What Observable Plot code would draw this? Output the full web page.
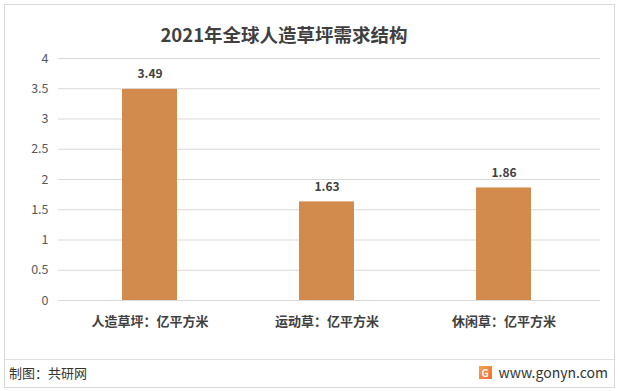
<!DOCTYPE html>
<html><head><meta charset="utf-8">
<script src="https://cdn.jsdelivr.net/npm/d3@7"></script>
<script src="https://cdn.jsdelivr.net/npm/@observablehq/plot@0.6"></script>
<style>
html,body{margin:0;padding:0;background:#fff;}
#wrap{position:relative;width:618px;height:391px;overflow:hidden;font-family:"Noto Sans CJK SC","Noto Sans",sans-serif;}
#border{position:absolute;left:4px;top:4px;width:611px;height:384px;border:1px solid #d9d9d9;box-sizing:border-box;}
#title{position:absolute;left:0;width:568px;top:21px;text-align:center;font-size:18.5px;font-weight:bold;color:#404040;}
#chart{position:absolute;left:0;top:40px;}
#sep{position:absolute;left:5px;top:359px;width:609px;height:1px;background:#e0e0e0;}
#src{position:absolute;left:9px;top:363px;font-size:13px;color:#333;}
#site{position:absolute;right:10px;top:362px;font-size:14px;color:#333;display:flex;align-items:center;}
#logo{display:inline-block;width:13px;height:13px;margin-right:7px;background:linear-gradient(135deg,#f7a34a,#ee6a3a);color:#fff;font-size:10px;font-weight:bold;line-height:13px;text-align:center;}
</style></head>
<body>
<div id="wrap">
  <div id="border"></div>
  <div id="title">2021年全球人造草坪需求结构</div>
  <div id="chart"></div>
  <div id="sep"></div>
  <div id="src">制图：共研网</div>
  <div id="site"><span id="logo">G</span>www.gonyn.com</div>
</div>
<script>
const categories = ["人造草坪：亿平方米", "运动草：亿平方米", "休闲草：亿平方米"];
const values = [3.49, 1.63, 1.86];
const yTicks = [0, 0.5, 1, 1.5, 2, 2.5, 3, 3.5, 4];

const data = categories.map((c, i) => ({category: c, value: values[i]}));

const chart = Plot.plot({
  width: 618,
  height: 300,
  marginTop: 18,
  marginBottom: 40,
  marginLeft: 60,
  marginRight: 26,
  style: {fontFamily: '"Noto Sans CJK SC","Noto Sans",sans-serif', background: "transparent", overflow: "visible"},
  x: {domain: categories, paddingInner: 0.69, paddingOuter: 0.345, label: null},
  y: {domain: [0, 4], ticks: yTicks, label: null},
  marks: [
    Plot.ruleY(yTicks, {stroke: "#d9d9d9", strokeWidth: 1, insetLeft: -2, insetRight: -8}),
    Plot.barY(data, {x: "category", y: "value", fill: "#d38b4d"}),
    Plot.text(data, {x: "category", y: "value", text: d => d.value.toFixed(2), dy: -15, fontSize: 12, fontWeight: "bold", fill: "#404040"}),
    Plot.axisY(yTicks, {tickSize: 0, tickPadding: 12, fontSize: 12.5, color: "#595959", tickFormat: d => String(d)}),
    Plot.axisX({tickSize: 0, tickPadding: 16, fontSize: 13, color: "#404040", fontWeight: "bold"})
  ]
});
document.getElementById("chart").appendChild(chart);
</script>
</body></html>
